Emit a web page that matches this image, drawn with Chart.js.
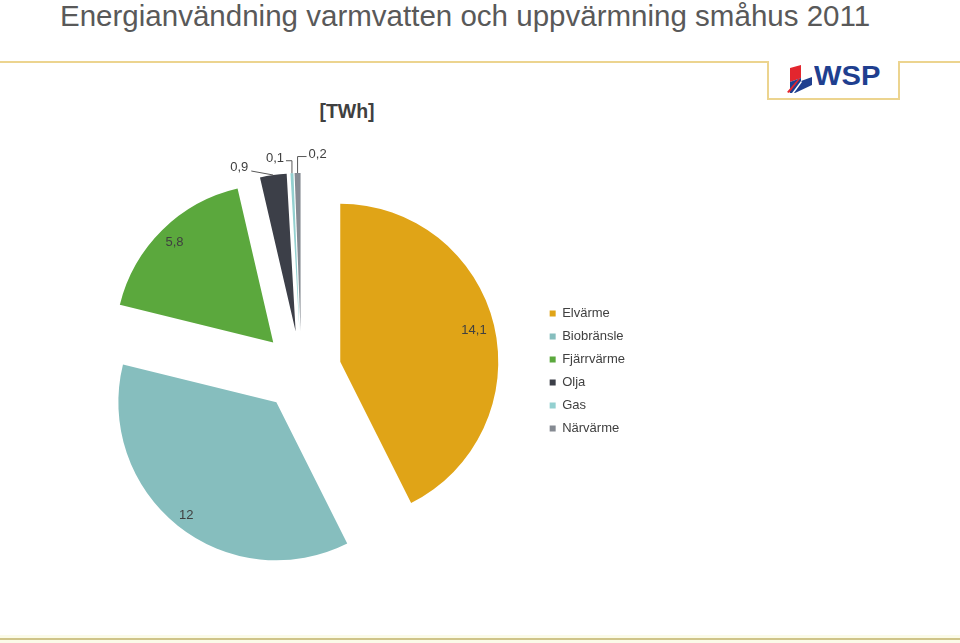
<!DOCTYPE html>
<html>
<head>
<meta charset="utf-8">
<script src="https://cdn.jsdelivr.net/npm/chart.js@4.4.0/dist/chart.umd.min.js"></script>
<style>
  html, body { margin:0; padding:0; background:#fff; width:960px; height:643px; overflow:hidden;
    font-family:"Liberation Sans", Arial, sans-serif; }
  #title { position:absolute; left:60px; top:2px; font-size:29px; line-height:29px; color:#595959; white-space:nowrap;
    transform:scaleX(1.018); transform-origin:left top; }
  .gold { position:absolute; background:#ecd48f; }
  #logoBox { position:absolute; left:767px; top:61px; width:133px; height:39px; box-sizing:border-box;
    border-left:2px solid #ecd48f; border-right:2px solid #ecd48f; border-bottom:2px solid #ecd48f; }
  #wsp { position:absolute; left:814px; top:60px; font-size:27px; font-weight:bold; color:#1f3f8f;
    transform:scaleX(1.08); transform-origin:left top; line-height:32px; }
  #icon { position:absolute; left:786px; top:64px; }
  #unit { position:absolute; left:297px; width:100px; top:99px; text-align:center; font-size:19.5px; font-weight:bold; color:#404040; line-height:24px; }
  #band { position:absolute; left:0; top:635px; width:960px; height:8px; background:#fbfbe8; }
  #bottomLine { position:absolute; left:0; top:638px; width:960px; height:2px; background:#cfc489; }
  #chartBox { position:absolute; left:0; top:131px; width:640px; height:480px; }
</style>
</head>
<body>
<div id="title">Energianvändning varmvatten och uppvärmning småhus 2011</div>
<div class="gold" style="left:0;top:61px;width:769px;height:2px;"></div>
<div class="gold" style="left:898px;top:61px;width:62px;height:2px;"></div>
<div id="logoBox"></div>
<svg id="icon" width="27" height="30" viewBox="0 0 27 30">
  <polygon points="4,4 15,1 15,14 4,18" fill="#e3262e"/>
  <polygon points="4,18 15,14 15,17 26,13 26,21 9,29 4,29" fill="#1f3f8f"/>
  <polygon points="6,29 15,17 16,18 8,29" fill="#ffffff"/>
  <polygon points="1,28 13,14 14,15 3,29" fill="#e3262e"/>
</svg>
<div id="wsp">WSP</div>
<div id="unit">[TWh]</div>
<div id="band"></div>
<div id="bottomLine"></div>
<div id="chartBox"><canvas id="chart"></canvas></div>

<script>
// ---- data ----
const categories = ['Elvärme', 'Biobränsle', 'Fjärrvärme', 'Olja', 'Gas', 'Närvärme'];
const values = [14.1, 12, 5.8, 0.9, 0.1, 0.2];

// ---- styles ----
const sliceColors = ['#E0A417', '#86BEBE', '#5BA83D', '#3C3F48', '#93D0D0', '#858A92'];
const explodeDistance = 40;
const pieRadius = 158;
// label placement per slice: inside (fraction of radius) or outside (offset from slice's outer point)
const labelPlacement = [
  { inside: 0.87 }, { inside: 0.915 }, { inside: 0.89 },
  { dx: -34, dy: -8, leader: 'straight' },
  { dx: -17, dy: -15, leader: 'elbow' },
  { dx: 20, dy: -19, leader: 'elbow' }
];
const fmt = v => String(v).replace('.', ',');

const explodePlugin = {
  id: 'explode',
  afterDatasetUpdate(chart, args) {
    args.meta.data.forEach(arc => {
      const mid = (arc.startAngle + arc.endAngle) / 2;
      arc.x += Math.cos(mid) * explodeDistance;
      arc.y += Math.sin(mid) * explodeDistance;
    });
  }
};

const valueLabelPlugin = {
  id: 'valueLabels',
  afterDatasetsDraw(chart) {
    const ctx = chart.ctx;
    const meta = chart.getDatasetMeta(0);
    ctx.save();
    ctx.font = '13px "Liberation Sans", Arial, sans-serif';
    ctx.fillStyle = '#404040';
    ctx.textAlign = 'center';
    ctx.textBaseline = 'middle';
    meta.data.forEach((arc, i) => {
      const mid = (arc.startAngle + arc.endAngle) / 2;
      const R = arc.outerRadius;
      const pl = labelPlacement[i];
      const text = fmt(values[i]);
      if (pl.inside) {
        ctx.fillText(text, arc.x + Math.cos(mid) * R * pl.inside, arc.y + Math.sin(mid) * R * pl.inside);
      } else {
        const ox = arc.x + Math.cos(mid) * R, oy = arc.y + Math.sin(mid) * R;
        const lx = ox + pl.dx, ly = oy + pl.dy;
        ctx.fillText(text, lx, ly);
        const w = ctx.measureText(text).width;
        ctx.beginPath();
        ctx.strokeStyle = '#595959';
        ctx.lineWidth = 1;
        if (pl.leader === 'straight') {
          ctx.moveTo(lx + w / 2 + 3, ly + 4);
          ctx.lineTo(ox, oy);
        } else {
          const sx = pl.dx < 0 ? lx + w / 2 + 2 : lx - w / 2 - 2;
          ctx.moveTo(sx, ly + 2.5);
          ctx.lineTo(ox, ly + 2.5);
          ctx.lineTo(ox, oy);
        }
        ctx.stroke();
      }
    });
    ctx.restore();
  }
};

new Chart(document.getElementById('chart'), {
  type: 'pie',
  data: {
    labels: categories,
    datasets: [{
      data: values,
      backgroundColor: sliceColors,
      borderWidth: 0,
      hoverOffset: 0,
      radius: pieRadius
    }]
  },
  options: {
    responsive: true,
    maintainAspectRatio: false,
    animation: false,
    events: [],
    layout: { padding: { left: 63, right: 5, top: 0, bottom: 0 } },
    plugins: {
      title: { display: false },
      tooltip: { enabled: false },
      legend: {
        position: 'right',
        labels: {
          boxWidth: 6, boxHeight: 6, padding: 10,
          color: '#404040',
          font: { size: 13, family: '"Liberation Sans", Arial, sans-serif' }
        }
      }
    }
  },
  plugins: [explodePlugin, valueLabelPlugin]
});
</script>
</body>
</html>
